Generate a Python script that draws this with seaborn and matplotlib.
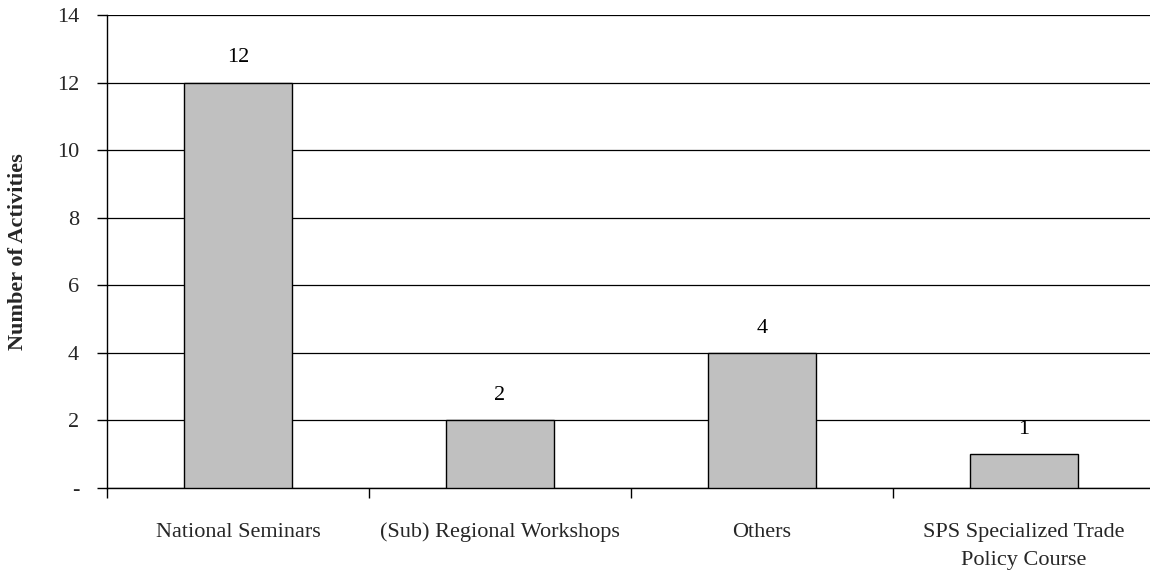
import matplotlib
matplotlib.use("Agg")
import matplotlib.pyplot as plt
import seaborn as sns
import pandas as pd

categories = ["National Seminars", "(Sub) Regional Workshops", "Others",
              "SPS Specialized Trade\nPolicy Course"]
activities = [12, 2, 4, 1]
y_ticks = [0, 2, 4, 6, 8, 10, 12, 14]
y_tick_labels = ["-", "2", "4", "6", "8", "10", "12", "14"]

df = pd.DataFrame({"Category": categories, "Activities": activities})

sns.set_style("white")
plt.rcParams["font.family"] = ["Liberation Serif", "DejaVu Serif"]

fig = plt.figure(figsize=(11.5, 5.73), dpi=100)
ax = fig.add_axes([107 / 1150, 85 / 573, 1048 / 1150, 473 / 573])

sns.barplot(data=df, x="Category", y="Activities", color="#C0C0C0",
            edgecolor="black", linewidth=1.0, width=0.41, saturation=1,
            ax=ax, zorder=3)

# value labels above bars
for cont in ax.containers:
    ax.bar_label(cont, padding=11, fontsize=16, color="black")

ax.set_xlim(-0.5, 3.5)
ax.set_ylim(0, 14)
ax.set_yticks(y_ticks)
ax.set_yticklabels(y_tick_labels, fontsize=16)
ax.yaxis.grid(True, color="black", linewidth=0.9, zorder=0)
ax.set_axisbelow(True)

# category labels centred, tick marks between categories
ax.set_xticks(range(len(categories)))
ax.set_xticklabels(categories, fontsize=16, linespacing=1.68)
ax.set_xticks([-0.5, 0.5, 1.5, 2.5], minor=True)
ax.tick_params(axis="x", which="major", length=0, pad=25, bottom=True)
ax.tick_params(axis="x", which="minor", length=7, width=1, color="black",
               direction="out", bottom=True)
ax.tick_params(axis="y", length=7, width=1, color="black", direction="out",
               pad=13, left=True)

for side in ["top", "right"]:
    ax.spines[side].set_visible(False)
for side in ["left", "bottom"]:
    ax.spines[side].set_color("black")
    ax.spines[side].set_linewidth(1.0)

ax.set_xlabel("")
ax.set_ylabel("Number of Activities", fontsize=16, fontweight="bold")
ax.yaxis.set_label_coords(-0.0754, 0.5)

fig.savefig("out.png", dpi=100)
